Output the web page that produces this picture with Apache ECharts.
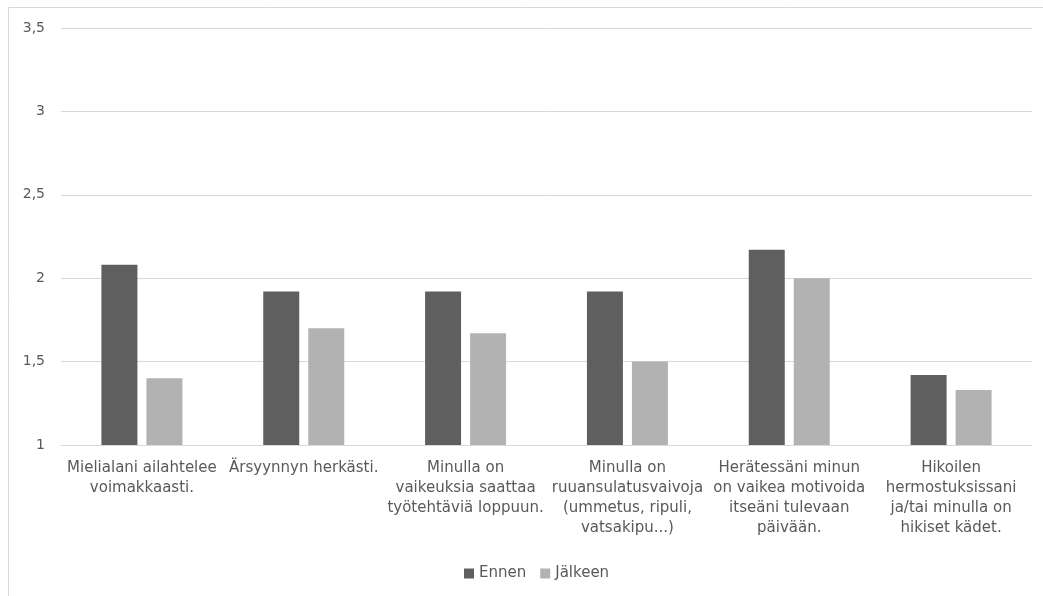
<!DOCTYPE html>
<html>
<head>
<meta charset="utf-8">
<script src="https://cdn.jsdelivr.net/npm/echarts@6/dist/echarts.min.js"></script>
<style>
html,body{margin:0;padding:0;background:#fff;}
#chart{width:1043px;height:596px;}
</style>
</head>
<body>
<div id="chart"></div>
<script>
const categories = [
  "Mielialani ailahtelee\nvoimakkaasti.",
  "Ärsyynnyn herkästi.",
  "Minulla on\nvaikeuksia saattaa\ntyötehtäviä loppuun.",
  "Minulla on\nruuansulatusvaivoja\n(ummetus, ripuli,\nvatsakipu...)",
  "Herätessäni minun\non vaikea motivoida\nitseäni tulevaan\npäivään.",
  "Hikoilen\nhermostuksissani\nja/tai minulla on\nhikiset kädet."
];
const seriesNames = ["Ennen", "Jälkeen"];
const ennen = [2.08, 1.92, 1.92, 1.92, 2.17, 1.42];
const jalkeen = [1.40, 1.70, 1.67, 1.50, 2.00, 1.33];

const font = "'DejaVu Sans', 'Open Sans', sans-serif";
const textColor = "#595959";

const chart = echarts.init(document.getElementById('chart'));
chart.setOption({
  animation: false,
  backgroundColor: '#ffffff',
  graphic: [{
    type: 'rect',
    shape: {x: 8.5, y: 7.5, width: 1100, height: 700},
    style: {fill: 'none', stroke: '#d9d9d9', lineWidth: 1},
    silent: true,
    z: -1
  }],
  grid: {left: 61, right: 11, top: 28, bottom: 151, containLabel: false},
  legend: {
    data: seriesNames,
    top: 561,
    left: 459,
    itemWidth: 10,
    itemHeight: 10,
    itemGap: 14,
    icon: 'rect',
    textStyle: {color: textColor, fontFamily: font, fontSize: 15}
  },
  xAxis: {
    type: 'category',
    data: categories,
    axisLine: {lineStyle: {color: '#d9d9d9', width: 1}},
    axisTick: {show: false},
    axisLabel: {
      interval: 0,
      color: textColor,
      fontFamily: font,
      fontSize: 15,
      lineHeight: 20,
      margin: 13,
      align: 'center'
    }
  },
  yAxis: {
    type: 'value',
    min: 1,
    max: 3.5,
    interval: 0.5,
    axisLine: {show: false},
    axisTick: {show: false},
    splitLine: {lineStyle: {color: '#d9d9d9', width: 1}},
    axisLabel: {
      color: textColor,
      fontFamily: font,
      fontSize: 14,
      margin: 16,
      formatter: v => String(v).replace('.', ',')
    }
  },
  series: [
    {
      name: seriesNames[0],
      type: 'bar',
      data: ennen,
      barWidth: 36,
      barGap: '25%',
      itemStyle: {color: '#5f5f5f'}
    },
    {
      name: seriesNames[1],
      type: 'bar',
      data: jalkeen,
      barWidth: 36,
      barGap: '25%',
      itemStyle: {color: '#b2b2b2'}
    }
  ]
});
</script>
</body>
</html>
